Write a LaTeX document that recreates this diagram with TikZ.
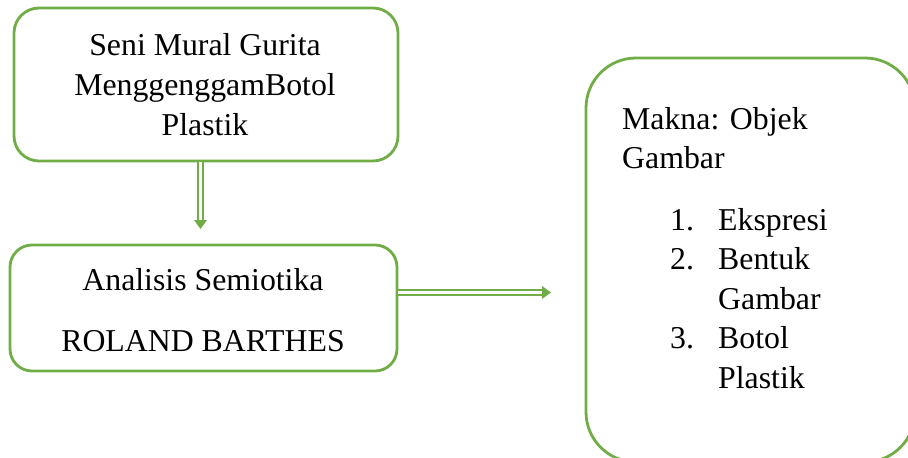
\documentclass[tikz,border=0pt]{standalone}
\usepackage{fontspec}
\setmainfont{Liberation Serif}
\definecolor{boxgreen}{HTML}{70AD47}
\begin{document}
\begin{tikzpicture}[x=1pt,y=-1pt,
  gbox/.style={draw=boxgreen, line width=2.8pt, rectangle, inner sep=0pt},
  txt/.style={anchor=base, inner sep=0pt, font=\fontsize{31.8pt}{40pt}\selectfont},
  txtw/.style={anchor=base west, inner sep=0pt, font=\fontsize{31.8pt}{40pt}\selectfont},
  dblline/.style={draw=boxgreen, line width=1.9pt, double=white, double distance=2.4pt},
  tipfill/.style={fill=boxgreen}
]
\useasboundingbox (0,0) rectangle (908,458);
\clip (0,0) rectangle (908,458);
% boxes
\node[gbox, rounded corners=25pt, minimum width=384pt, minimum height=153pt] (b1) at (206,84.5) {};
\node[gbox, rounded corners=22pt, minimum width=387pt, minimum height=126pt] (b2) at (203.5,308) {};
\node[gbox, rounded corners=50pt, minimum width=329pt, minimum height=404pt] (b3) at (750.5,260) {};
% texts box 1
\node[txt] (t11) at (205,55) {Seni Mural Gurita};
\node[txt] (t12) at (205,95) {MenggenggamBotol};
\node[txt] (t13) at (205,135) {Plastik};
% texts box 2
\node[txt] (t21) at (203,290) {Analisis Semiotika};
\node[txt] (t22) at (203,351) {ROLAND BARTHES};
% texts box 3
\node[txtw] (t31) at (622,129) {Makna: Objek};
\node[txtw] (t32) at (622,168) {Gambar};
\node[txtw] (n1) at (670,230) {1.};
\node[txtw] (i1) at (718,230) {Ekspresi};
\node[txtw] (n2) at (670,269.5) {2.};
\node[txtw] (i2) at (718,269.5) {Bentuk};
\node[txtw] (i2b) at (718,309) {Gambar};
\node[txtw] (n3) at (670,348.5) {3.};
\node[txtw] (i3) at (718,348.5) {Botol};
\node[txtw] (i3b) at (718,388) {Plastik};
% arrows
\coordinate (a1) at (200.5,229);
\coordinate (a2) at (551,292.5);
\draw[dblline] (b1.south -| a1) -- ([yshift=7pt]a1);
\fill[tipfill] (a1) -- ++(-6.5,-9) -- ++(13,0) -- cycle;
\draw[dblline] (b2.east |- a2) -- ([xshift=-7pt]a2);
\fill[tipfill] (a2) -- ++(-9,-6.5) -- ++(0,13) -- cycle;
\end{tikzpicture}
\end{document}
